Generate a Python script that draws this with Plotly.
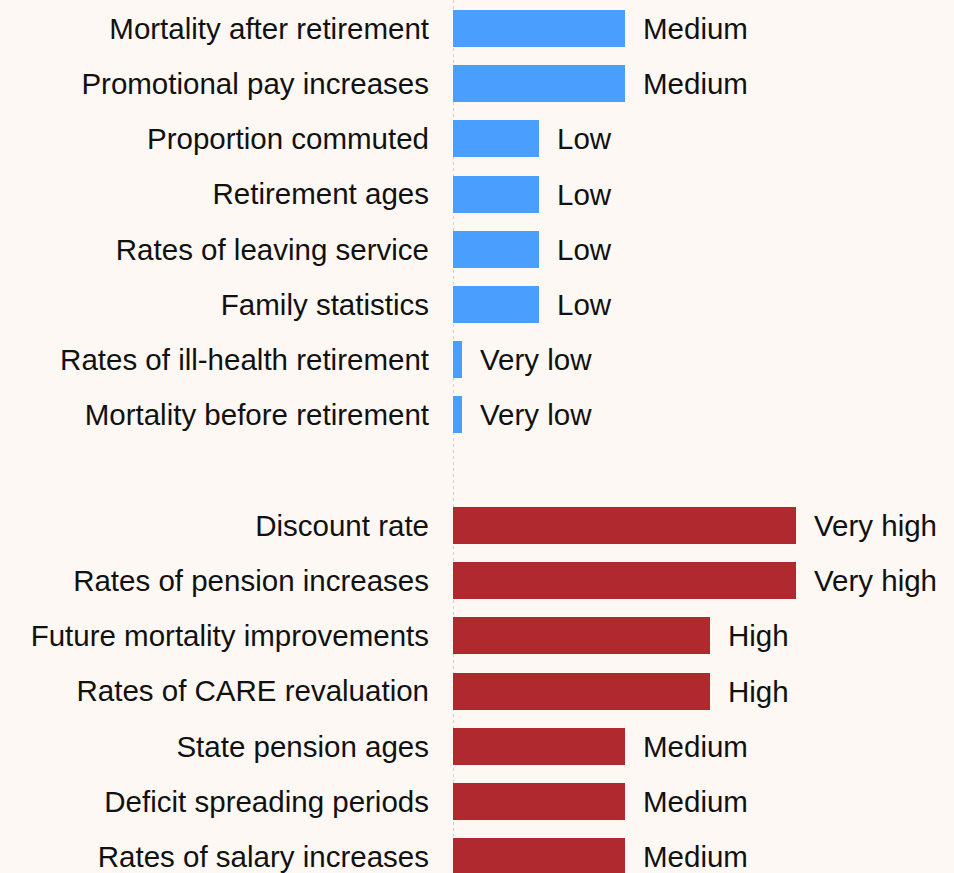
import plotly.graph_objects as go

# Data
demographic_labels = [
    "Mortality after retirement",
    "Promotional pay increases",
    "Proportion commuted",
    "Retirement ages",
    "Rates of leaving service",
    "Family statistics",
    "Rates of ill-health retirement",
    "Mortality before retirement",
]
demographic_levels = ["Medium", "Medium", "Low", "Low", "Low", "Low", "Very low", "Very low"]

financial_labels = [
    "Discount rate",
    "Rates of pension increases",
    "Future mortality improvements",
    "Rates of CARE revaluation",
    "State pension ages",
    "Deficit spreading periods",
    "Rates of salary increases",
]
financial_levels = ["Very high", "Very high", "High", "High", "Medium", "Medium", "Medium"]

level_scale = {"Very low": 0.1, "Low": 1, "Medium": 2, "High": 3, "Very high": 4}

BLUE = "#4a9efd"
RED = "#b0292e"
BG = "#fdf8f3"
FONT = "Liberation Sans, Arial, sans-serif"
FS = 29.5

category_order = demographic_labels + [" "] + financial_labels

fig = go.Figure()
for labels, levels, color in [
    (demographic_labels, demographic_levels, BLUE),
    (financial_labels, financial_levels, RED),
]:
    fig.add_trace(go.Bar(
        x=[level_scale[l] for l in levels],
        y=labels,
        orientation="h",
        width=0.67,
        marker=dict(color=color, line=dict(width=0)),
        showlegend=False,
        hoverinfo="skip",
    ))
    for lab, lev in zip(labels, levels):
        fig.add_annotation(
            x=level_scale[lev], y=lab, text=lev, showarrow=False,
            xanchor="left", yanchor="middle", xshift=16,
            font=dict(family=FONT, size=FS, color="#111111"),
        )

fig.add_shape(
    type="line", x0=0, x1=0, xref="x", y0=0, y1=1, yref="paper",
    line=dict(color="#c4c4c4", width=1.5, dash="dot"), layer="below",
)

fig.update_layout(
    width=954, height=873,
    margin=dict(l=453, r=0, t=0, b=0),
    paper_bgcolor=BG, plot_bgcolor=BG,
    font=dict(family=FONT, size=FS, color="#111111"),
    xaxis=dict(range=[0, 5.84], visible=False, showgrid=False, zeroline=False),
    yaxis=dict(
        type="category",
        categoryorder="array", categoryarray=category_order,
        range=[15.296, -0.516],
        showgrid=False, zeroline=False, showline=False,
        ticks="", ticklabelstandoff=23,
        tickfont=dict(family=FONT, size=FS, color="#111111"),
    ),
    bargap=0,
)

fig.write_html(
    "out.html",
    config={"displayModeBar": False},
    post_script="document.body.style.margin='0';document.body.style.overflow='hidden';",
)
